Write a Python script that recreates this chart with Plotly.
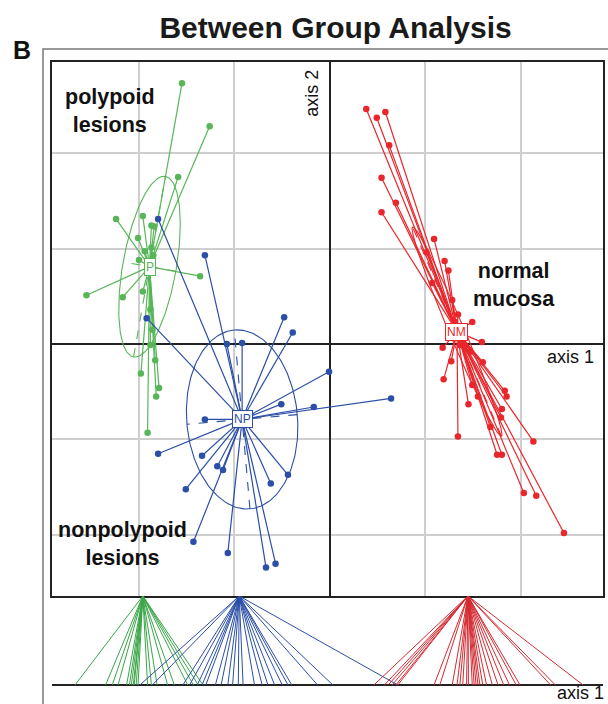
import numpy as np
import plotly.graph_objects as go

# ---------------- data (axis units) ----------------
groups = ["P", "NP", "NM"]
group_names = ["polypoid<br>lesions", "nonpolypoid<br>lesions", "normal<br>mucosa"]

p_x = [-1.55, -1.26, -1.59, -2.24, -1.96, -1.87, -1.84, -2.01, -1.94, -2.00, -1.36, -2.55,
       -2.17, -1.96, -1.98, -1.79, -1.82, -1.91, -1.87, -1.85, -1.88, -1.86, -1.88, -1.83]
p_y = [2.73, 2.28, 1.75, 1.31, 1.34, 1.24, 1.23, 1.11, 0.97, 0.88, 0.71, 0.51,
       0.49, 0.55, -0.31, -0.46, -0.55, -0.93, 1.01, 0.93, 0.36, 0.15, -0.01, -0.17]

np_x = [-0.48, -0.39, -1.08, -0.92, -0.01, 0.64, -0.51, -0.17, -1.31, -1.80, -1.34, -1.18,
        -1.12, -0.62, -0.44, -1.51, -1.43, -1.07, -0.67, -0.57, -1.92, -1.80, -1.31]
np_y = [0.28, 0.12, 0.00, 0.01, -0.29, -0.57, -0.63, -0.66, -0.79, -1.15, -1.17, -1.28,
        -1.32, -1.46, -1.37, -1.52, -2.07, -2.19, -2.34, -2.30, 0.27, 1.31, 0.93]

nm_x = [0.38, 0.49, 0.58, 0.62, 0.54, 0.69, 0.54, 1.09, 1.01, 1.20, 1.24, 1.07, 1.34, 1.49,
        1.59, 1.18, 1.27, 1.19, 1.60, 1.49, 1.55, 1.45, 1.83, 1.85, 1.80, 1.79, 1.68, 1.34,
        2.13, 1.75, 1.80, 2.03, 2.16, 2.45, 1.31, 1.38, 1.41, 1.47, 1.28, 1.36]
nm_y = [2.46, 2.37, 2.43, 2.08, 1.74, 1.48, 1.38, 1.10, 0.96, 0.87, 0.77, 0.64, 0.31, 0.23,
        0.02, -0.04, -0.18, -0.37, -0.19, -0.43, -0.55, -0.63, -0.49, -0.55, -0.68, -0.77, -0.87, -0.97,
        -1.02, -1.16, -1.16, -1.56, -1.59, -1.98, 0.23, 0.15, -0.01, -0.08, 0.46, -0.01]

# class centres (axis 1, axis 2)
center_x = [-1.89, -0.92, 1.33]
center_y = [0.81, -0.79, 0.13]

# ellipse parameters: semi-major, semi-minor, angle of major axis (degrees)
ell_a = [0.96, 0.94, 1.19]
ell_b = [0.28, 0.58, 0.08]
ell_ang = [80, 95, 113]

# 1-D projection on axis 1 (bottom panel)
bottom_center = [-1.96, -0.95, 1.445]
p_axis1 = [-2.67, -2.35, -2.28, -2.22, -2.13, -2.10, -2.08, -2.06, -2.05, -2.03, -2.01,
           -1.91, -1.87, -1.81, -1.70, -1.63, -1.49, -1.43, -1.38, -1.33]
np_axis1 = [-1.99, -1.86, -1.54, -1.47, -1.39, -1.34, -1.30, -1.20, -1.14, -1.07, -1.02, -0.96,
            -0.91, -0.79, -0.71, -0.65, -0.58, -0.50, -0.44, -0.40, -0.13, 0.03, 0.71]
nm_axis1 = [0.46, 0.57, 0.61, 0.65, 0.69, 0.71, 1.09, 1.15, 1.28, 1.33, 1.36, 1.39, 1.43, 1.45,
            1.49, 1.51, 1.53, 1.55, 1.57, 1.60, 1.64, 1.70, 1.76, 1.82, 1.88, 1.95, 1.99, 2.31, 2.36, 2.65]

# ---------------- styling ----------------
colors = ["#58b658", "#2b4ea6", "#e8262b"]
bottom_colors = ["#3aa648", "#2b4ea6", "#d42a31"]
XR = [-2.911, 2.859]
YR = [-2.639, 2.953]
SPLIT = 0.16301
FONT = "Liberation Sans, Arial"

pts_x = [p_x, np_x, nm_x]
pts_y = [p_y, np_y, nm_y]
proj = [p_axis1, np_axis1, nm_axis1]

fig = go.Figure()

for g in range(3):
    cx, cy = center_x[g], center_y[g]
    col = colors[g]
    # star lines
    lx, ly = [], []
    for xv, yv in zip(pts_x[g], pts_y[g]):
        lx += [cx, xv, None]
        ly += [cy, yv, None]
    fig.add_trace(go.Scatter(x=lx, y=ly, mode="lines", line=dict(color=col, width=1.2),
                             hoverinfo="skip", showlegend=False))
    # ellipse
    t = np.linspace(0, 2 * np.pi, 200)
    th = np.deg2rad(ell_ang[g])
    a, b = ell_a[g], ell_b[g]
    ex = cx + a * np.cos(th) * np.cos(t) - b * np.sin(th) * np.sin(t)
    ey = cy + a * np.sin(th) * np.cos(t) + b * np.cos(th) * np.sin(t)
    fig.add_trace(go.Scatter(x=ex, y=ey, mode="lines", line=dict(color=col, width=1.1),
                             hoverinfo="skip", showlegend=False))
    # ellipse axes (dashed)
    ax_x = [cx - a * np.cos(th), cx + a * np.cos(th), None, cx - b * np.cos(th + np.pi / 2), cx + b * np.cos(th + np.pi / 2)]
    ax_y = [cy - a * np.sin(th), cy + a * np.sin(th), None, cy - b * np.sin(th + np.pi / 2), cy + b * np.sin(th + np.pi / 2)]
    fig.add_trace(go.Scatter(x=ax_x, y=ax_y, mode="lines", line=dict(color=col, width=1.1, dash="dash"),
                             hoverinfo="skip", showlegend=False))
    # points
    fig.add_trace(go.Scatter(x=pts_x[g], y=pts_y[g], mode="markers",
                             marker=dict(color=col, size=6.5, line=dict(width=0)),
                             showlegend=False))
    # bottom panel projection lines
    bx, by = [], []
    for xv in proj[g]:
        bx += [bottom_center[g], xv, None]
        by += [1, 0, None]
    fig.add_trace(go.Scatter(x=bx, y=by, xaxis="x2", yaxis="y2", mode="lines",
                             line=dict(color=bottom_colors[g], width=1.0),
                             hoverinfo="skip", showlegend=False))

annotations = []
# class label boxes
for g in range(3):
    annotations.append(dict(x=center_x[g], y=center_y[g], xref="x", yref="y", text=groups[g],
                            xanchor="center", yanchor="middle",
                            showarrow=False, font=dict(family=FONT, size=12, color=colors[g]),
                            bgcolor="white", bordercolor=colors[g], borderwidth=1, borderpad=1))
# group names
name_pos = [(-2.30, 2.44), (-2.17, -2.09), (1.93, 0.62)]
for g in range(3):
    annotations.append(dict(x=name_pos[g][0], y=name_pos[g][1], xref="x", yref="y",
                            text="<b>" + group_names[g] + "</b>", xanchor="center", yanchor="middle",
                            showarrow=False, font=dict(family=FONT, size=21.5, color="#111")))
# axis labels
annotations.append(dict(x=-0.19, y=2.63, xref="x", yref="y", text="axis 2", textangle=-90, showarrow=False,
                        xanchor="center", yanchor="middle", font=dict(family=FONT, size=18, color="#111")))
annotations.append(dict(x=2.52, y=-0.14, xref="x", yref="y", text="axis 1", showarrow=False,
                        xanchor="center", yanchor="middle", font=dict(family=FONT, size=18, color="#111")))
annotations.append(dict(x=2.62, y=-0.09, xref="x2", yref="y2", text="axis 1", showarrow=False,
                        xanchor="center", yanchor="middle", font=dict(family=FONT, size=18, color="#111")))
# panel letter
annotations.append(dict(x=-0.0544, y=1.0188, xref="paper", yref="paper", text="<b>B</b>", showarrow=False,
                        xanchor="center", yanchor="middle", font=dict(family=FONT, size=25, color="#111")))

axis_common = dict(showticklabels=False, ticks="", dtick=1, tick0=0)
fig.update_layout(
    width=608, height=704,
    margin=dict(l=52, r=5, t=62, b=4),
    paper_bgcolor="white", plot_bgcolor="white",
    title=dict(text="<b>Between Group Analysis</b>", x=0.552, xanchor="center", y=0.9616, yanchor="middle",
               font=dict(family=FONT, size=30, color="#1a1a1a")),
    xaxis=dict(domain=[0, 1], range=XR, anchor="y", showgrid=True, gridcolor="#cfcfcf", gridwidth=1.5,
               zeroline=True, zerolinecolor="#222", zerolinewidth=1.5,
               showline=True, mirror=True, linecolor="#222", linewidth=2, **axis_common),
    yaxis=dict(domain=[SPLIT, 1], range=YR, anchor="x", showgrid=True, gridcolor="#cfcfcf", gridwidth=1.5,
               zeroline=True, zerolinecolor="#222", zerolinewidth=1.5,
               showline=True, mirror=True, linecolor="#222", linewidth=2, **axis_common),
    xaxis2=dict(domain=[0, 1], range=XR, anchor="y2", showgrid=False, zeroline=False, showline=False,
                **axis_common),
    yaxis2=dict(domain=[0, SPLIT], range=[-0.1685, 1], anchor="x2", showgrid=False,
                zeroline=True, zerolinecolor="#222", zerolinewidth=1.5, showline=False, **axis_common),
    annotations=annotations,
    shapes=[dict(type="rect", xref="paper", yref="paper", x0=-0.0163, x1=1.0127, y0=-0.0157, y1=1.0204,
                 line=dict(color="#777", width=1.5), fillcolor="rgba(0,0,0,0)", layer="below")],
    showlegend=False,
)

fig.write_html("out.html", config={"displayModeBar": False},
               post_script="document.body.style.margin='0';document.body.style.overflow='hidden';")
